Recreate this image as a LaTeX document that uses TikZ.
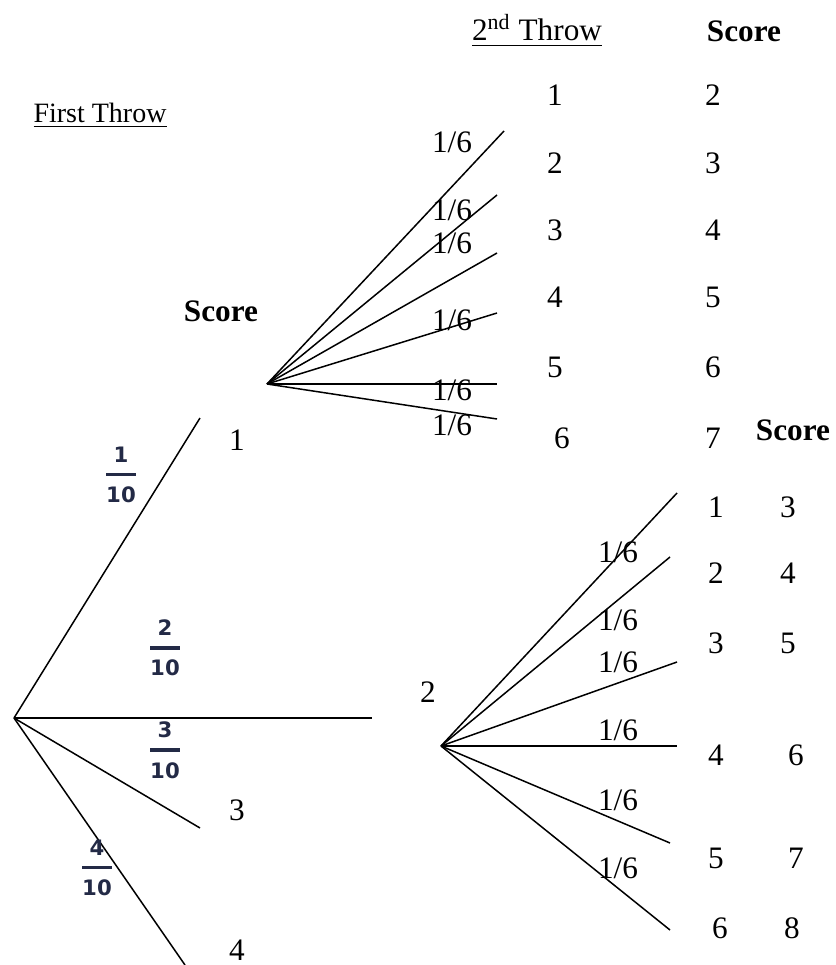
\documentclass[tikz,border=0pt]{standalone}
\usepackage{amsmath}
\usepackage{fontspec}
\setmainfont{Liberation Serif}
\newfontfamily\fracfont{DejaVu Sans}
\usetikzlibrary{positioning}
\definecolor{fracink}{RGB}{35,42,70}
\newcommand{\frc}[2]{$\genfrac{}{}{1.4pt}{0}{\hbox{\fracfont\bfseries #1}}{\hbox{\fracfont\bfseries #2}}$}

\begin{document}
\begin{tikzpicture}[x=0.4pt,y=-0.4pt,line width=0.6pt,
  every node/.style={font=\fontsize{12.5}{14}\selectfont,inner sep=1pt},
  head/.style={font=\fontsize{12.5}{14}\selectfont\bfseries},
  frac/.style={text=fracink,font=\fontsize{8.5}{9}\selectfont}]
\useasboundingbox (0,0) rectangle (835,965);
% headings
\node[font=\fontsize{11.2}{13}\selectfont] (first) at (100,116) {\underline{First Throw}};
\node (second) at (537,31) {\underline{2\textsuperscript{nd} Throw}};
\node[head] (scoreA) at (744,31) {Score};
\node[head] (scoreB) at (221,311) {Score};
\node[head] (scoreC) at (793,430) {Score};
% first throw
\coordinate (root) at (14,718);
\coordinate (e1) at (200,418); \coordinate (e2) at (372,718);
\coordinate (e3) at (200,828); \coordinate (e4) at (185,965);
\draw (root)--(e1); \draw (root)--(e2); \draw (root)--(e3); \draw (root)--(e4);
\node (t1) at (237,440) {1}; \node (t2) at (428,692) {2};
\node (t3) at (237,810) {3}; \node (t4) at (237,950) {4};
\node[frac] (f1) at (121,475) {\frc{1}{10}};
\node[frac] (f2) at (165,648) {\frc{2}{10}};
\node[frac] (f3) at (165,750) {\frc{3}{10}};
\node[frac] (f4) at (97,868) {\frc{4}{10}};
% second throw after 1
\coordinate (a) at (267,384);
\foreach \x/\y [count=\i] in {504/131,497/195,497/253,497/313,497/384,497/419}
  {\coordinate (a\i) at (\x,\y); \draw (a)--(a\i);}
\foreach \y [count=\i] in {142,210,243,320,390,425}
  \node (pa\i) at (452,\y) {1/6};
\foreach \x/\y/\s [count=\i] in {555/95/2,555/163/3,555/230/4,555/297/5,555/367/6,562/438/7}
  {\node (ra\i) at (\x,\y) {\i}; \node (sa\i) at (713,\y) {\s};}
% second throw after 2
\coordinate (b) at (441,746);
\foreach \x/\y [count=\i] in {677/493,670/557,677/662,677/746,670/843,670/930}
  {\coordinate (b\i) at (\x,\y); \draw (b)--(b\i);}
\foreach \y [count=\i] in {552,620,662,730,800,868}
  \node (pb\i) at (618,\y) {1/6};
\foreach \x/\y/\sx/\s [count=\i] in {716/507/788/3,716/573/788/4,716/643/788/5,716/755/796/6,716/858/796/7,720/928/792/8}
  {\node (rb\i) at (\x,\y) {\i}; \node (sb\i) at (\sx,\y) {\s};}
\end{tikzpicture}
\end{document}
